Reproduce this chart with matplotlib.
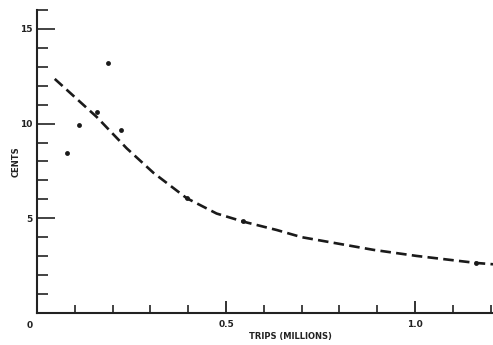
import matplotlib
matplotlib.use("Agg")
import matplotlib.pyplot as plt
from matplotlib.ticker import MultipleLocator

# Observed points (trips in millions, cost in cents)
trips = [0.079, 0.111, 0.159, 0.189, 0.222, 0.398, 0.544, 1.161]
cents = [8.44, 9.95, 10.6, 13.2, 9.68, 6.07, 4.84, 2.64]

# Fitted (dashed) curve
curve_trips = [0.047, 0.10, 0.158, 0.237, 0.308, 0.396, 0.475, 0.546, 0.634, 0.70, 0.89, 1.004, 1.161, 1.206]
curve_cents = [12.36, 11.4, 10.35, 8.7, 7.4, 6.06, 5.25, 4.82, 4.38, 4.0, 3.33, 3.01, 2.64, 2.57]

y_tick_labels = {5: "5", 10: "10", 15: "15"}
x_tick_labels = {0.5: "0.5", 1.0: "1.0"}

fig = plt.figure(figsize=(4.93, 3.45), dpi=100)
ax = fig.add_axes([0.075, 0.093, 0.925, 0.878])

ax.plot(curve_trips, curve_cents, color="#1a1a1a", lw=1.9, ls=(0, (4, 2)), dash_capstyle="butt")
ax.plot(trips, cents, "o", color="#1a1a1a", ms=3.5, mec="none")

ax.set_xlim(0, 1.206)
ax.set_ylim(0, 16)

for s in ["top", "right"]:
    ax.spines[s].set_visible(False)
for s in ["left", "bottom"]:
    ax.spines[s].set_linewidth(1.5)
    ax.spines[s].set_color("#222222")

ax.set_yticks(list(y_tick_labels.keys()))
ax.set_yticklabels(list(y_tick_labels.values()))
ax.yaxis.set_minor_locator(MultipleLocator(1))
ax.set_xticks(list(x_tick_labels.keys()))
ax.set_xticklabels(list(x_tick_labels.values()))
ax.xaxis.set_minor_locator(MultipleLocator(0.1))

ax.tick_params(axis="y", which="major", direction="in", length=13, width=1.2, labelsize=6.5, pad=3, colors="#222222")
ax.tick_params(axis="y", which="minor", direction="in", length=8, width=1.2, colors="#222222")
ax.tick_params(axis="x", which="major", direction="in", length=9, width=1.3, labelsize=6.5, pad=5, colors="#222222")
ax.tick_params(axis="x", which="minor", direction="in", length=6, width=1.2, colors="#222222")
for lbl in ax.get_xticklabels() + ax.get_yticklabels():
    lbl.set_fontweight("bold")

fig.text(30 / 493, 1 - 325 / 345, "0", fontsize=6.5, fontweight="bold", color="#222222", ha="center", va="center")
fig.text(290 / 493, 1 - 337 / 345, "TRIPS (MILLIONS)", fontsize=6, fontweight="bold", color="#222222", ha="center", va="center")
fig.text(16 / 493, 1 - 162 / 345, "CENTS", fontsize=6, fontweight="bold", color="#222222", ha="center", va="center", rotation=90)

fig.savefig("out.png", dpi=100)
